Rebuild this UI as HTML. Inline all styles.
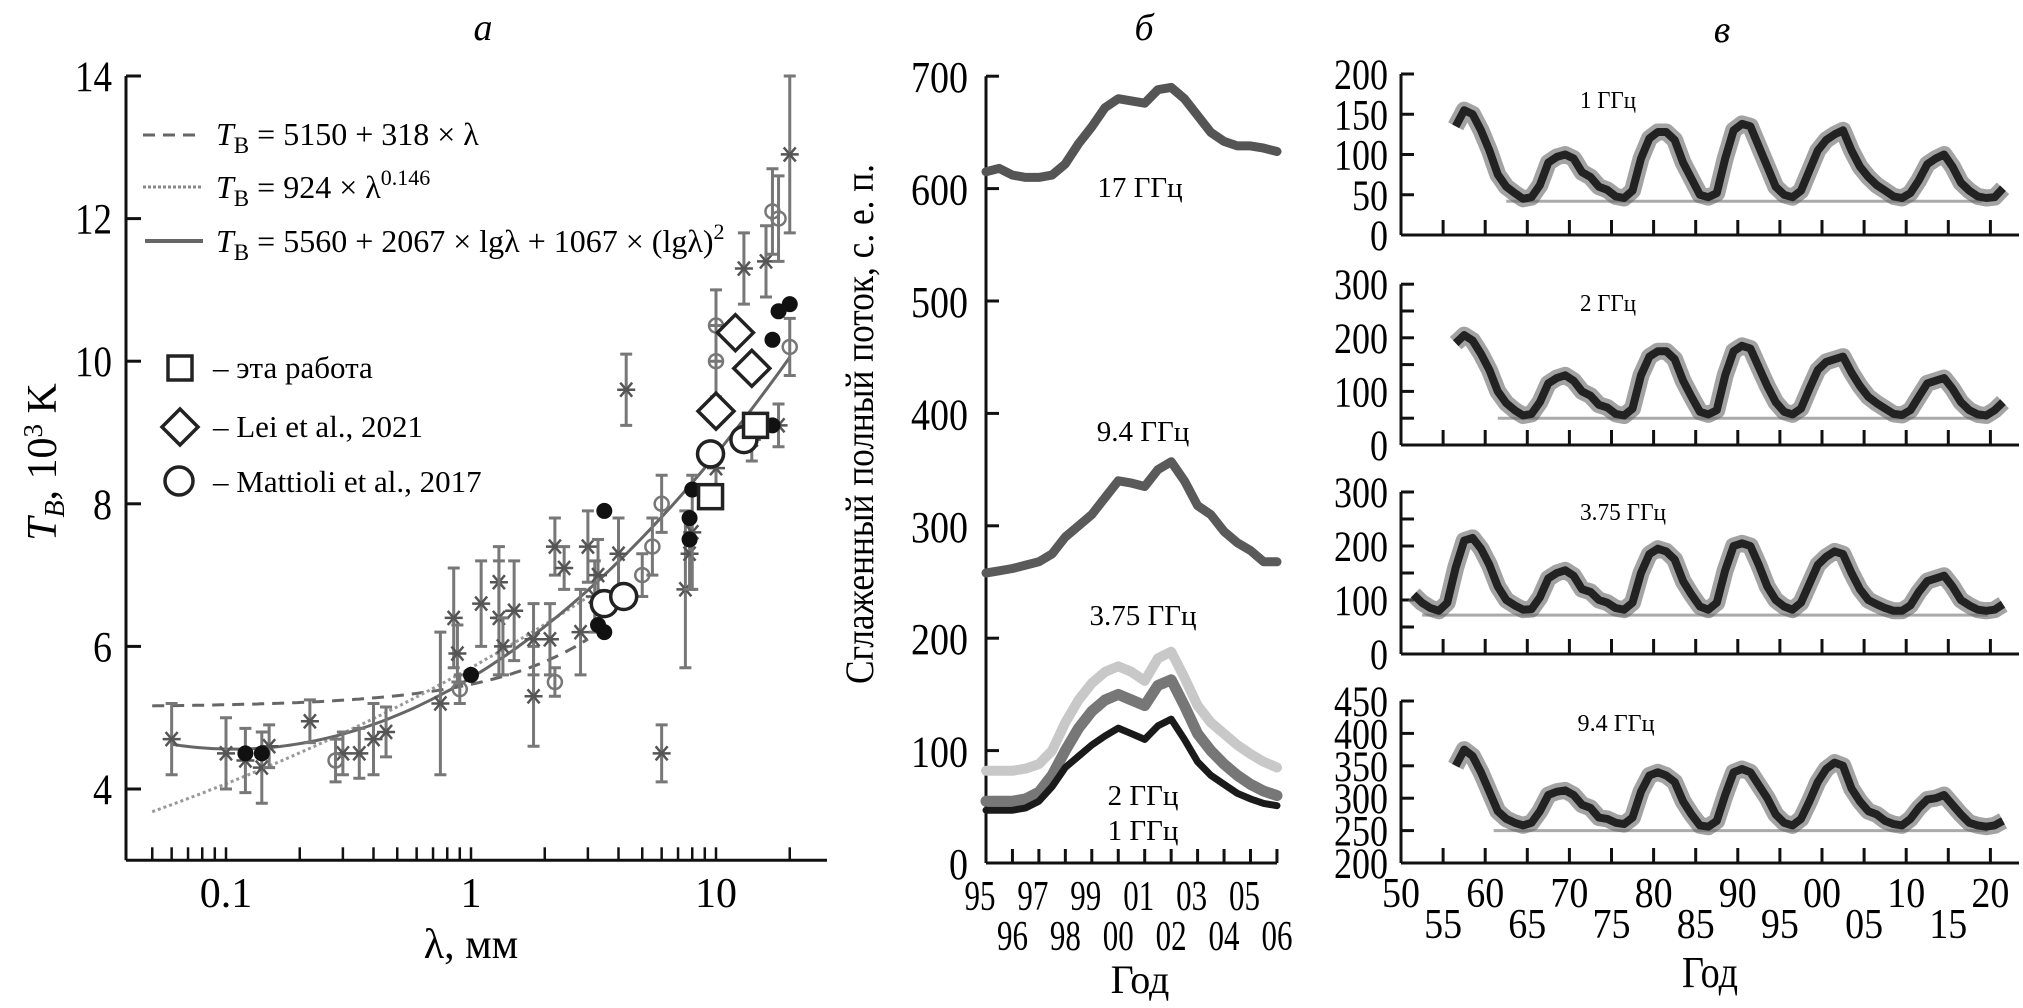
<!DOCTYPE html>
<html><head><meta charset="utf-8"><style>
html,body{margin:0;padding:0;background:#fff}
svg{display:block;font-family:"Liberation Serif","Noto Serif CJK SC",serif}
</style></head><body>
<svg id="fig" width="2023" height="1008" viewBox="0 0 2023 1008" xmlns="http://www.w3.org/2000/svg">
<rect width="2023" height="1008" fill="#fff"/>
<text x="483" y="40" font-size="38" font-style="italic" text-anchor="middle">а</text>
<text x="1144" y="40" font-size="38" font-style="italic" text-anchor="middle">б</text>
<text x="1722" y="42" font-size="38" font-style="italic" text-anchor="middle">в</text>
<text transform="translate(56,462) rotate(-90)" font-size="42" text-anchor="middle"><tspan font-style="italic">T</tspan><tspan font-style="italic" font-size="28" dy="8">B</tspan><tspan dy="-8">, 10</tspan><tspan font-size="27" dy="-14">3</tspan><tspan dy="14"> K</tspan></text>
<text x="471" y="958" font-size="42" text-anchor="middle">λ, мм</text>
<g>
<line x1="143" y1="135" x2="203" y2="135" stroke="#666" stroke-width="3" stroke-dasharray="12,8"/>
<line x1="143" y1="187" x2="203" y2="187" stroke="#888" stroke-width="3" stroke-dasharray="3,2"/>
<line x1="145" y1="241" x2="203" y2="241" stroke="#666" stroke-width="4"/>
<text x="216" y="145" font-size="32"><tspan font-style="italic">T</tspan><tspan font-size="23" dy="8">B</tspan><tspan dy="-8"> = 5150 + 318 × λ</tspan></text>
<text x="216" y="198" font-size="32"><tspan font-style="italic">T</tspan><tspan font-size="23" dy="8">B</tspan><tspan dy="-8"> = 924 × λ</tspan><tspan font-size="22" dy="-13">0.146</tspan></text>
<text x="216" y="252" font-size="32"><tspan font-style="italic">T</tspan><tspan font-size="23" dy="8">B</tspan><tspan dy="-8"> = 5560 + 2067 × lgλ + 1067 × (lgλ)</tspan><tspan font-size="22" dy="-13">2</tspan></text>
</g>
<g>
<rect x="168" y="356" width="24" height="24" fill="#fff" stroke="#222" stroke-width="3.5"/>
<polygon points="180,409 198,427 180,445 162,427" fill="#fff" stroke="#222" stroke-width="3.5"/>
<circle cx="179" cy="481" r="14" fill="#fff" stroke="#222" stroke-width="3.5"/>
<text x="213" y="378" font-size="31">– эта работа</text>
<text x="213" y="437" font-size="31">– Lei et al., 2021</text>
<text x="213" y="492" font-size="31">– Mattioli et al., 2017</text>
</g>
<text transform="translate(873,424) rotate(-90)" font-size="40" text-anchor="middle" textLength="520" lengthAdjust="spacingAndGlyphs">Сглаженный полный поток, с. е. п.</text>
<text x="1140" y="993" font-size="40" text-anchor="middle">Год</text>
<text x="1140" y="197" font-size="29" text-anchor="middle">17 ГГц</text>
<text x="1143" y="441" font-size="29" text-anchor="middle">9.4 ГГц</text>
<text x="1143" y="625" font-size="29" text-anchor="middle">3.75 ГГц</text>
<text x="1143" y="805" font-size="29" text-anchor="middle">2 ГГц</text>
<text x="1143" y="840" font-size="29" text-anchor="middle">1 ГГц</text>
<text x="1710" y="987" font-size="44" text-anchor="middle" textLength="56" lengthAdjust="spacingAndGlyphs">Год</text>
<text x="1608" y="108" font-size="24" text-anchor="middle" textLength="56" lengthAdjust="spacingAndGlyphs">1 ГГц</text>
<text x="1608" y="311" font-size="24" text-anchor="middle" textLength="56" lengthAdjust="spacingAndGlyphs">2 ГГц</text>
<text x="1623" y="520" font-size="24" text-anchor="middle" textLength="86" lengthAdjust="spacingAndGlyphs">3.75 ГГц</text>
<text x="1616" y="731" font-size="24" text-anchor="middle" textLength="77" lengthAdjust="spacingAndGlyphs">9.4 ГГц</text>
</svg>
<script>
// ===== Panel a data =====
const aTicksX = [0.1, 1, 10];
const aTicksXLabels = ["0.1", "1", "10"];
const aTicksY = [4, 6, 8, 10, 12, 14];
const linearCoef = [5150, 318];
const powerCoef = [924, 0.146];
const logCoef = [5560, 2067, 1067];
const starL = [0.06,0.1,0.12,0.14,0.15,0.22,0.3,0.35,0.4,0.45,0.75,0.85,0.88,1.1,1.3,1.3,1.35,1.5,1.8,1.8,2.1,2.2,2.4,2.8,3,3.2,3.3,4,4.3,6,7.5,7.8,8,10,13,14,16,18,20];
const starT = [4.7,4.5,4.4,4.3,4.6,4.95,4.5,4.5,4.7,4.8,5.2,6.4,5.9,6.6,6.9,6.4,6.0,6.5,5.3,6.1,6.1,7.4,7.1,6.2,7.4,6.7,7.0,7.3,9.6,4.5,6.8,7.3,7.6,8.5,11.3,8.9,11.4,9.1,12.9];
const starE = [0.5,0.5,0.45,0.5,0.3,0.3,0.3,0.35,0.5,0.35,1.0,0.7,0.4,0.6,0.5,0.8,0.4,0.7,0.7,0.5,0.5,0.4,0.3,0.6,0.5,0.5,0.5,0.5,0.5,0.4,1.1,0.5,0.8,0.3,0.5,0.3,0.5,0.3,1.1];
const openL = [0.28,0.9,2.2,5,5.5,6,10,10,17,18,20];
const openT = [4.4,5.4,5.5,7.0,7.4,8.0,10.5,10.0,12.1,12.0,10.2];
const openE = [0.3,0.2,0.2,0.3,0.4,0.4,0.5,0.5,0.6,0.6,0.4];
const filledL = [0.12,0.14,1,3.3,3.5,3.5,7.8,7.8,8,17,18,20,17];
const filledT = [4.5,4.5,5.6,6.3,6.2,7.9,7.8,7.5,8.2,10.3,10.7,10.8,9.1];
const squareL = [9.5,14.5];
const squareT = [8.1,9.1];
const diamondL = [10,12,14];
const diamondT = [9.3,10.4,9.9];
const bigCircleL = [3.5,4.2,9.5,13];
const bigCircleT = [6.6,6.7,8.7,8.9];

// ===== Panel b data =====
const bYears = [95,95.5,96,96.5,97,97.5,98,98.5,99,99.5,100,100.5,101,101.5,102,102.5,103,103.5,104,104.5,105,105.5,106];
const bFlux17 = [615,618,612,610,610,612,622,640,655,672,680,678,676,688,690,680,665,650,642,638,638,636,633];
const bFlux94 = [258,260,262,265,268,275,290,300,310,325,340,338,335,350,357,340,318,310,295,285,278,268,268];
const bFlux375 = [82,82,82,84,88,100,125,145,160,170,175,170,162,182,188,165,140,125,115,105,97,90,85];
const bFlux2 = [55,55,55,57,63,78,100,120,135,145,150,145,140,158,163,140,115,100,88,78,70,64,60];
const bFlux1 = [47,47,47,49,55,68,85,95,105,113,120,115,110,122,128,110,90,78,70,62,57,53,51];
const bTicksY = [0,100,200,300,400,500,600,700];
const bTickLabelsTop = ["95","97","99","01","03","05"];
const bTickLabelsBottom = ["96","98","00","02","04","06"];

// ===== Panel c data =====
const cStart1 = 1956, cStart2 = 1956, cStart3 = 1951, cStart4 = 1956;
const cFlux1 = [135,155,150,130,105,75,60,52,45,47,62,90,97,100,95,78,72,60,56,48,46,55,95,120,128,128,118,90,70,50,47,52,95,130,138,135,110,85,60,50,47,55,80,105,118,125,130,105,85,72,62,55,48,46,52,68,88,95,100,85,65,55,48,46,47,58];
const cFlux2 = [190,205,195,170,140,100,78,65,55,58,80,115,125,130,120,100,92,75,70,58,55,68,130,165,175,175,160,120,90,62,57,65,130,175,185,180,145,110,80,62,57,68,105,140,155,160,165,135,110,90,78,68,58,56,65,90,115,120,125,105,80,65,57,55,65,80];
const cFlux3 = [110,95,85,80,95,160,210,215,195,165,125,100,90,82,83,105,140,150,155,145,120,115,100,95,85,82,95,150,185,195,190,175,135,110,88,82,95,155,200,205,200,165,125,100,88,82,95,130,165,180,190,185,150,120,100,92,85,80,80,90,115,135,140,145,125,100,90,82,80,82,92];
const cFlux4 = [350,375,365,340,310,280,268,262,258,262,280,305,310,312,305,290,285,270,268,262,260,270,310,335,340,335,325,295,275,258,256,265,305,340,345,340,320,300,275,262,258,268,295,325,345,355,350,315,295,280,275,265,260,258,268,285,298,300,305,290,275,262,258,256,258,265];
const cBase = [42, 50, 72, 250];
const cBaseFrom = [1962.5, 1961.5, 1952.5, 1961];
const cBaseTo = [2019, 2019, 2019.7, 2019.7];
const cTicks1 = [0,50,100,150,200];
const cTicks2 = [0,50,100,150,200,250,300];
const cTicks3 = [0,50,100,150,200,250,300];
const cTicks4 = [200,250,300,350,400,450];
const cLabels1 = [0,50,100,150,200];
const cLabels2 = [0,100,200,300];
const cLabels3 = [0,100,200,300];
const cLabels4 = [200,250,300,350,400,450];
const cYearTop = [1950,1960,1970,1980,1990,2000,2010,2020];
const cYearBottom = [1955,1965,1975,1985,1995,2005,2015];

const NS = "http://www.w3.org/2000/svg";
const svg = document.getElementById('fig');
function mk(tag, attrs, parent) {
  const e = document.createElementNS(NS, tag);
  for (const k in attrs) e.setAttribute(k, attrs[k]);
  (parent || svg).appendChild(e);
  return e;
}
function txt(x, y, s, size, anchor, tl) {
  const t = mk('text', {x: x, y: y, 'font-size': size, 'text-anchor': anchor});
  if (tl) { t.setAttribute('textLength', tl); t.setAttribute('lengthAdjust', 'spacingAndGlyphs'); }
  t.textContent = s;
  return t;
}

// ===== Panel a =====
const xa = l => 226 + 245 * Math.log10(l / 0.1);
const ya = T => 76 + (14 - T) * 71.3;
let ax = mk('path', {d: `M126,${ya(3)} H827 M126,${ya(3)} V${ya(14)}`, stroke: '#111', 'stroke-width': 3, fill: 'none'});


aTicksY.forEach(v => {
  const tk = mk('line', {x1: 126, x2: 141, y1: ya(v), y2: ya(v), stroke: '#111', 'stroke-width': 3});
  
  
  const lb = txt(112, ya(v) + 15, String(v), 43, 'end', v >= 10 ? 37 : 19);
  
  
});
for (let dec = 0.01; dec <= 10; dec *= 10) {
  for (let m = 1; m <= 9; m++) {
    const l = dec * m;
    if (l < 0.049 || l > 20.1) continue;
    const tk = mk('line', {x1: xa(l), x2: xa(l), y1: ya(3), y2: ya(3) - 13, stroke: '#111', 'stroke-width': 2.5});
    
    
  }
}
aTicksX.forEach((v, i) => {
  const lb = txt(xa(v), 907, aTicksXLabels[i], 42, 'middle');
  
  
});
function fitPath(f, l0, l1) {
  let d = '';
  for (let i = 0; i <= 120; i++) {
    const l = Math.pow(10, Math.log10(l0) + (Math.log10(l1) - Math.log10(l0)) * i / 120);
    d += (i ? 'L' : 'M') + xa(l).toFixed(1) + ',' + ya(f(l)).toFixed(1);
  }
  return d;
}
let fl = mk('path', {d: fitPath(l => (linearCoef[0] + linearCoef[1] * l) / 1000, 0.05, 3), stroke: '#666', 'stroke-width': 3, fill: 'none', 'stroke-dasharray': '12,8'});


let fp = mk('path', {d: fitPath(l => powerCoef[0] * 6.17 * Math.pow(l, powerCoef[1]) / 1000, 0.05, 3), stroke: '#999', 'stroke-width': 3, fill: 'none', 'stroke-dasharray': '3,3'});


let fg = mk('path', {d: fitPath(l => { const g = Math.log10(l); return (logCoef[0] + logCoef[1] * g + logCoef[2] * g * g) / 1000; }, 0.06, 20), stroke: '#666', 'stroke-width': 3, fill: 'none'});


function errbar(l, T, e) {
  const x = xa(l);
  const g = mk('path', {d: `M${x},${ya(T - e)} V${ya(T + e)} M${x - 6},${ya(T - e)} H${x + 6} M${x - 6},${ya(T + e)} H${x + 6}`, stroke: '#777', 'stroke-width': 3, fill: 'none'});
  
  
}
starL.forEach((l, i) => {
  errbar(l, starT[i], starE[i]);
  const x = xa(l), y = ya(starT[i]), r = 9;
  const s = mk('path', {d: `M${x - r},${y} H${x + r} M${x - 6},${y - 7} L${x + 6},${y + 7} M${x - 6},${y + 7} L${x + 6},${y - 7}`, stroke: '#555', 'stroke-width': 2.5, fill: 'none'});
  
  
});
openL.forEach((l, i) => {
  errbar(l, openT[i], openE[i]);
  const c = mk('circle', {cx: xa(l), cy: ya(openT[i]), r: 7, fill: 'none', stroke: '#777', 'stroke-width': 2.5});
  
  
});
filledL.forEach((l, i) => {
  const c = mk('circle', {cx: xa(l), cy: ya(filledT[i]), r: 8, fill: '#111'});
  
  
});
bigCircleL.forEach((l, i) => {
  const c = mk('circle', {cx: xa(l), cy: ya(bigCircleT[i]), r: 13, fill: '#fff', stroke: '#222', 'stroke-width': 3.5});
  
  
});
squareL.forEach((l, i) => {
  const x = xa(l), y = ya(squareT[i]);
  const c = mk('rect', {x: x - 12, y: y - 12, width: 24, height: 24, fill: '#fff', stroke: '#222', 'stroke-width': 3.5});
  
  
});
diamondL.forEach((l, i) => {
  const x = xa(l), y = ya(diamondT[i]);
  const c = mk('polygon', {points: `${x},${y - 18} ${x + 18},${y} ${x},${y + 18} ${x - 18},${y}`, fill: '#fff', stroke: '#222', 'stroke-width': 3.5});
  
  
});

// ===== Panel b =====
const xb = y => 986 + (y - 95) * 26.45;
const yb = v => 863 - v * 1.124;
let bx = mk('path', {d: `M986,${yb(0)} H1277 M986,${yb(0)} V${yb(700)}`, stroke: '#111', 'stroke-width': 3, fill: 'none'});


bTicksY.forEach(v => {
  const tk = mk('line', {x1: 986, x2: 999, y1: yb(v), y2: yb(v), stroke: '#111', 'stroke-width': 3});
  
  
  const s = String(v);
  const lb = txt(968, yb(v) + 16, s, 44, 'end', s.length * 19);
  
  
});
for (let y = 96; y <= 106; y++) {
  const tk = mk('line', {x1: xb(y), x2: xb(y), y1: yb(0), y2: yb(0) - 14, stroke: '#111', 'stroke-width': 3});
  
  
}
bTickLabelsTop.forEach((s, i) => {
  const lb = txt(xb(95 + 2 * i) - 6, 910, s, 42, 'middle', 31);
  
  
});
bTickLabelsBottom.forEach((s, i) => {
  const lb = txt(xb(96 + 2 * i), 950, s, 42, 'middle', 31);
  
  
});
function bLine(vals, color, w, name) {
  const d = vals.map((v, i) => (i ? 'L' : 'M') + xb(bYears[i]).toFixed(1) + ',' + yb(v).toFixed(1)).join('');
  const p = mk('path', {d: d, stroke: color, 'stroke-width': w, fill: 'none', 'stroke-linejoin': 'round', 'stroke-linecap': 'round'});
  
  
}
bLine(bFlux17, '#555', 9, 'flux-17ghz-line');
bLine(bFlux94, '#5a5a5a', 9, 'flux-9-4ghz-line');
bLine(bFlux375, '#c8c8c8', 10, 'flux-3-75ghz-line');
bLine(bFlux2, '#777', 11, 'flux-2ghz-line');
bLine(bFlux1, '#1a1a1a', 7, 'flux-1ghz-line');

// ===== Panel c =====
const xc = y => 1401 + (y - 1950) * 8.42;
const subs = [
  {vals: cFlux1, start: cStart1, ticks: cTicks1, labels: cLabels1, y: v => 235 - v * 0.805, top: 200, bot: 0},
  {vals: cFlux2, start: cStart2, ticks: cTicks2, labels: cLabels2, y: v => 445 - v * 0.536, top: 300, bot: 0},
  {vals: cFlux3, start: cStart3, ticks: cTicks3, labels: cLabels3, y: v => 654 - v * 0.54, top: 300, bot: 0},
  {vals: cFlux4, start: cStart4, ticks: cTicks4, labels: cLabels4, y: v => 863 - (v - 200) * 0.648, top: 450, bot: 200}
];
subs.forEach((s, k) => {
  const y0 = s.y(s.bot);
  const a = mk('path', {d: `M1401,${y0} H2019 M1401,${y0} V${s.y(s.top)}`, stroke: '#111', 'stroke-width': 3, fill: 'none'});
  
  
  s.ticks.forEach(v => {
    const tk = mk('line', {x1: 1401, x2: 1414, y1: s.y(v), y2: s.y(v), stroke: '#111', 'stroke-width': 3});
    
    
  });
  s.labels.forEach(v => {
    const str = String(v);
    const lb = txt(1388, s.y(v) + 15, str, 43, 'end', str.length * 18);
    
    
  });
  for (let yr = 1955; yr <= 2020; yr += 5) {
    const tk = mk('line', {x1: xc(yr), x2: xc(yr), y1: y0, y2: y0 - 15, stroke: '#111', 'stroke-width': 3});
    
    
  }
  const bl = mk('line', {x1: xc(cBaseFrom[k]), x2: xc(cBaseTo[k]), y1: s.y(cBase[k]), y2: s.y(cBase[k]), stroke: '#aaa', 'stroke-width': 3});
  
  
  const d = s.vals.map((v, i) => (i ? 'L' : 'M') + xc(s.start + i + 0.5).toFixed(1) + ',' + s.y(v).toFixed(1)).join('');
  const halo = mk('path', {d: d, stroke: '#666', 'stroke-opacity': 0.6, 'stroke-width': 17, fill: 'none', 'stroke-linejoin': 'round'});
  
  
  const core = mk('path', {d: d, stroke: '#222', 'stroke-width': 8, fill: 'none', 'stroke-linejoin': 'round'});
  
  
});
cYearTop.forEach(yr => {
  const lb = txt(xc(yr), 907, String(yr % 100).padStart(2, '0'), 42, 'middle', 38);
  
  
});
cYearBottom.forEach(yr => {
  const lb = txt(xc(yr), 938, String(yr % 100).padStart(2, '0'), 42, 'middle', 38);
  
  
});
</script>
</body></html>
